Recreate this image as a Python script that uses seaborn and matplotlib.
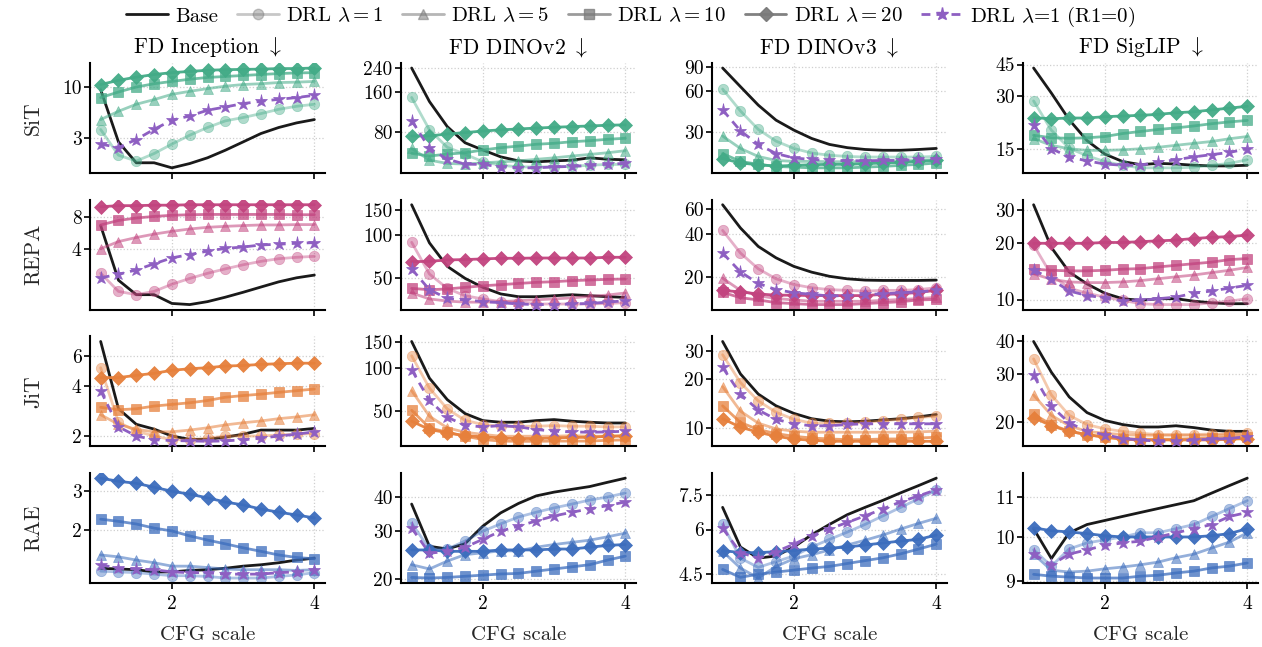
import numpy as np
import pandas as pd
import matplotlib
matplotlib.use("Agg")
import matplotlib.pyplot as plt
from matplotlib.lines import Line2D
from matplotlib.ticker import FixedLocator, FixedFormatter, NullLocator
import seaborn as sns

# ---------------------------------------------------------------- data
cfg = [1.0, 1.25, 1.5, 1.75, 2.0, 2.25, 2.5, 2.75, 3.0, 3.25, 3.5, 3.75, 4.0]

models = ["SiT", "REPA", "JiT", "RAE"]
metrics = ["FD Inception", "FD DINOv2", "FD DINOv3", "FD SigLIP"]
series = ["Base", "DRL $\\lambda=1$", "DRL $\\lambda=5$", "DRL $\\lambda=10$",
          "DRL $\\lambda=20$", "DRL $\\lambda$=1 (R1=0)"]

# each panel: base, lambda=1, lambda=5, lambda=10, lambda=20, lambda=1 (R1=0)
sit_inception = [
    [9.4, 2.77, 1.70, 1.70, 1.51, 1.67, 1.91, 2.28, 2.77, 3.37, 3.88, 4.32, 4.67],
    [3.70, 2.03, 1.77, 2.11, 2.63, 3.24, 3.88, 4.53, 4.90, 5.37, 5.94, 6.37, 6.68],
    [4.67, 5.67, 6.68, 7.45, 8.43, 9.04, 9.63, 10.2, 10.6, 10.8, 11.1, 11.2, 11.4],
    [7.81, 8.9, 10.0, 10.8, 11.4, 12.0, 12.5, 12.8, 13.1, 13.4, 13.7, 13.9, 14.0],
    [10.6, 11.7, 12.6, 13.4, 14.0, 14.4, 14.8, 15.0, 15.1, 15.2, 15.4, 15.4, 15.6],
    [2.63, 2.43, 2.93, 3.72, 4.60, 5.08, 5.81, 6.27, 6.79, 7.16, 7.5, 7.81, 8.24],
]
sit_dinov2 = [
    [242, 135, 87.3, 65.9, 58.1, 51.6, 48.1, 47.3, 48.1, 48.7, 50.7, 49.5, 49],
    [145, 82.5, 60.9, 54.1, 47.3, 44.6, 43.3, 43.3, 43.3, 43.7, 44.6, 45.2, 45.2],
    [59.8, 48.7, 46, 45.5, 46.5, 47.3, 48.1, 49.4, 50.7, 52.3, 53.8, 55.4, 57.4],
    [54.8, 52.3, 54.1, 55.4, 58.1, 60.5, 62.2, 64.2, 65.3, 67.1, 68.3, 70, 71.3],
    [74.2, 74.2, 76.8, 78.6, 80.9, 82.5, 83.8, 85.1, 86.3, 87.3, 88.3, 89.4, 90],
    [97, 59.8, 49.6, 45.4, 45.2, 43.3, 42.6, 42.6, 43.3, 43.7, 44.4, 45.4, 46],
]
sit_dinov3 = [
    [89, 65, 47.6, 36.9, 31.2, 27.1, 24.5, 23.2, 22.5, 22.2, 22.2, 22.5, 22.9],
    [62.4, 43.1, 31.6, 25.9, 22.9, 21.2, 20.4, 20.0, 19.8, 19.8, 19.8, 19.8, 20.0],
    [28.2, 22.9, 20.0, 18.7, 18.4, 18.4, 18.3, 18.3, 18.3, 18.4, 18.6, 18.7, 19.0],
    [21.0, 18.4, 17.5, 16.9, 16.7, 16.5, 16.5, 16.5, 16.7, 16.9, 17.2, 17.5, 17.9],
    [19.3, 17.9, 17.4, 17.0, 17.2, 17.4, 17.5, 17.5, 17.7, 17.9, 18.1, 18.4, 18.7],
    [43.9, 30.8, 24.5, 21.0, 19.5, 19.0, 18.7, 18.6, 18.6, 18.7, 18.7, 19.0, 19.3],
]
sit_siglip = [
    [43, 31, 21.9, 16.7, 14.0, 12.7, 12.2, 12.4, 12.3, 12.1, 12.0, 12.0, 12.1],
    [28, 19.1, 15.1, 13.7, 12.7, 12.1, 11.7, 11.7, 11.7, 11.8, 12.1, 12.4, 13.0],
    [17.1, 15.7, 15.0, 14.7, 14.7, 14.8, 15.0, 15.3, 15.7, 16.1, 16.5, 17.1, 17.6],
    [17.9, 17.3, 17.2, 17.3, 17.6, 18.3, 18.8, 19.3, 19.7, 20.2, 20.8, 21.3, 21.7],
    [22.5, 22.2, 22.4, 22.4, 22.8, 23.0, 23.2, 23.5, 24.0, 24.3, 24.9, 25.5, 26.1],
    [20.4, 15.0, 13.5, 12.8, 12.3, 12.1, 12.1, 12.6, 13.0, 13.5, 13.9, 14.3, 15.0],
]
repa_inception = [
    [6.66, 2.07, 1.52, 1.52, 1.26, 1.23, 1.31, 1.44, 1.6, 1.79, 2.0, 2.18, 2.31],
    [2.4, 1.63, 1.52, 1.63, 1.9, 2.15, 2.4, 2.64, 2.88, 3.1, 3.28, 3.38, 3.45],
    [4.06, 4.73, 5.16, 5.55, 5.89, 6.19, 6.42, 6.55, 6.66, 6.75, 6.75, 6.8, 6.8],
    [6.75, 7.43, 7.83, 8.1, 8.3, 8.4, 8.45, 8.45, 8.45, 8.45, 8.45, 8.4, 8.4],
    [9.96, 10.2, 10.2, 10.3, 10.3, 10.4, 10.4, 10.4, 10.4, 10.4, 10.4, 10.4, 10.4],
    [2.18, 2.35, 2.58, 2.94, 3.34, 3.58, 3.86, 4.09, 4.21, 4.4, 4.47, 4.56, 4.63],
]
repa_dinov2 = [
    [162, 88.1, 60.6, 50, 43.3, 39, 37.3, 37.3, 37.9, 38.5, 37.9, 37.3, 36.9],
    [88.9, 53.6, 42.6, 37.9, 36, 34.5, 33.9, 33.2, 33.2, 33.2, 33.2, 33.5, 33.9],
    [39.6, 36, 34.8, 34.2, 34.2, 34.5, 35, 35.5, 36, 36.6, 37.5, 38.3, 39.6],
    [42.6, 41.7, 42.2, 43.3, 44.4, 45.2, 46.1, 46.9, 47.4, 48.2, 48.7, 49.2, 49.5],
    [65.3, 65.6, 67.1, 67.5, 68.2, 68.9, 68.9, 69.2, 69.2, 69.2, 69.2, 70, 70],
    [58.1, 41.7, 36.3, 35.4, 34.5, 33.9, 33.2, 32.9, 32.9, 33.2, 33.5, 34.2, 35],
]
repa_dinov3 = [
    [64, 44.1, 32.8, 27.3, 23.8, 21.7, 20.3, 19.5, 19.1, 19, 19, 19, 19.1],
    [42.4, 29.5, 22.9, 19.5, 17.8, 16.9, 16.4, 16.2, 16, 16.2, 16.2, 16.4, 16.9],
    [19.7, 16.2, 14.9, 14.2, 13.9, 13.6, 13.6, 13.6, 13.6, 13.8, 14, 14.2, 14.5],
    [15.7, 14.4, 13.9, 13.3, 13.1, 12.9, 12.9, 12.9, 13.1, 13.3, 13.5, 13.9, 14],
    [16.2, 15.8, 15.3, 15, 15, 14.9, 14.9, 14.9, 14.9, 15.2, 15.3, 15.7, 16.2],
    [29.5, 21.8, 18.1, 16.4, 15.6, 15.2, 14.8, 14.9, 15.2, 15.3, 15.6, 15.8, 16.2],
]
repa_siglip = [
    [31.9, 18.9, 14, 12.1, 10.8, 10.1, 9.9, 10.1, 10.1, 9.8, 9.6, 9.5, 9.5],
    [19.5, 13.5, 11.5, 10.8, 10.3, 9.9, 9.5, 9.4, 9.4, 9.4, 9.6, 9.8, 10.1],
    [13.7, 12.8, 12.4, 12.3, 12.3, 12.4, 12.6, 12.9, 13.2, 13.5, 13.9, 14.3, 14.8],
    [14.5, 14.3, 14.2, 14.2, 14.3, 14.5, 14.6, 14.9, 15.2, 15.5, 15.8, 16.3, 16.5],
    [19.9, 19.9, 19.9, 19.9, 20.1, 20.1, 20.3, 20.5, 20.7, 21.1, 21.4, 21.6, 22],
    [14.4, 12.8, 11.1, 10.5, 10.2, 9.8, 9.9, 10.1, 10.3, 10.8, 11.1, 11.5, 11.9],
]
jit_inception = [
    [7.35, 2.91, 2.35, 2.2, 2.0, 1.91, 1.91, 1.97, 2.05, 2.17, 2.17, 2.17, 2.22],
    [5.12, 2.42, 2.14, 2.0, 1.9, 1.9, 1.94, 2.0, 2.0, 2.0, 2.03, 2.05, 2.07],
    [2.68, 2.35, 2.19, 2.12, 2.12, 2.17, 2.24, 2.33, 2.4, 2.46, 2.54, 2.6, 2.68],
    [2.97, 2.87, 2.91, 3.02, 3.09, 3.16, 3.26, 3.41, 3.49, 3.56, 3.65, 3.73, 3.82],
    [4.47, 4.47, 4.61, 4.74, 4.94, 5.05, 5.12, 5.24, 5.28, 5.36, 5.41, 5.45, 5.45],
    [3.73, 2.27, 2.0, 1.9, 1.88, 1.87, 1.86, 1.87, 1.9, 1.94, 2.0, 2.05, 2.12],
]
jit_dinov2 = [
    [152, 84.7, 60.2, 48.2, 43.1, 42, 42, 43.1, 43.8, 42.7, 42, 41.5, 41.5],
    [121, 72.3, 51.9, 43.3, 40.5, 39.4, 39.4, 39.4, 39.8, 39.4, 39.4, 39, 39],
    [69.4, 46.2, 38.4, 35.8, 34.6, 33.6, 33.6, 33.6, 33.6, 33.9, 33.6, 33.6, 33.6],
    [50.8, 38.4, 35.8, 33.6, 31.9, 31.1, 31, 31, 31.1, 31.1, 31.1, 31.5, 31.7],
    [42.7, 37.4, 35.5, 33.9, 33.3, 32.7, 32.4, 32.4, 32.7, 33, 33, 33.6, 33.9],
    [96.8, 59.5, 45.5, 40, 39, 39.8, 39, 37.4, 36.4, 36, 35.8, 36, 36.4],
]
jit_dinov3 = [
    [34.3, 21.6, 16.2, 13.7, 12.3, 11.4, 11, 10.9, 11, 11.2, 11.4, 11.7, 12.1],
    [28.4, 19.1, 14.7, 12.5, 11.3, 10.7, 10.7, 10.7, 10.8, 11.1, 11.3, 11.6, 11.8],
    [18, 12.7, 10.7, 9.86, 9.54, 9.4, 9.4, 9.4, 9.4, 9.4, 9.4, 9.44, 9.54],
    [13.7, 10.8, 9.77, 9.22, 8.87, 8.66, 8.54, 8.46, 8.46, 8.54, 8.54, 8.66, 8.75],
    [11.4, 10.1, 9.4, 8.87, 8.54, 8.38, 8.26, 8.26, 8.26, 8.26, 8.26, 8.26, 8.26],
    [23.7, 16.2, 12.9, 11.3, 10.6, 10.3, 10.3, 10.5, 10.6, 10.6, 10.6, 10.6, 10.6],
]
jit_siglip = [
    [39.7, 30.5, 24.7, 21.6, 20.2, 19.5, 19.1, 19.1, 19.3, 19.0, 18.6, 18.4, 18.4],
    [34.2, 25.1, 21.1, 19.5, 18.8, 18.4, 18.1, 17.9, 17.9, 17.9, 18.0, 18.0, 18.1],
    [25.1, 21.1, 19.3, 18.4, 18.1, 17.9, 17.8, 17.8, 17.8, 17.8, 17.8, 17.9, 17.9],
    [21.3, 19.5, 18.4, 17.9, 17.5, 17.3, 17.2, 17.2, 17.2, 17.3, 17.4, 17.5, 17.6],
    [20.7, 19.3, 18.4, 17.9, 17.5, 17.2, 17.1, 17.1, 17.1, 17.1, 17.1, 17.2, 17.3],
    [29.7, 22.8, 19.8, 18.4, 17.9, 17.3, 17.1, 16.9, 16.9, 17.1, 17.2, 17.3, 17.6],
]
rae_inception = [
    [1.34, 1.33, 1.32, 1.29, 1.29, 1.31, 1.32, 1.34, 1.37, 1.39, 1.42, 1.46, 1.49],
    [1.3, 1.29, 1.28, 1.26, 1.24, 1.24, 1.23, 1.21, 1.21, 1.21, 1.23, 1.25, 1.28],
    [1.54, 1.51, 1.46, 1.42, 1.37, 1.37, 1.35, 1.33, 1.32, 1.32, 1.32, 1.31, 1.32],
    [2.24, 2.19, 2.13, 2.04, 1.98, 1.88, 1.8, 1.73, 1.66, 1.6, 1.54, 1.5, 1.48],
    [3.44, 3.33, 3.26, 3.13, 3.0, 2.91, 2.8, 2.68, 2.6, 2.49, 2.41, 2.34, 2.27],
    [1.39, 1.34, 1.33, 1.32, 1.29, 1.28, 1.28, 1.26, 1.26, 1.26, 1.28, 1.29, 1.32],
]
rae_dinov2 = [
    [37.7, 26.4, 25.8, 27.0, 31.3, 35, 37.9, 40.4, 41.7, 42.7, 43.7, 45.3, 46.9],
    [32.1, 25.8, 25.8, 27.6, 30, 31.9, 33.8, 35.2, 36.5, 37.7, 39, 40, 41.4],
    [22.6, 21.8, 23.3, 24.6, 25, 25.4, 25.4, 26.2, 26.8, 27.3, 27.8, 28.6, 29.5],
    [20.3, 20.2, 20.3, 20.5, 20.7, 20.9, 21, 21.4, 21.8, 22.2, 22.6, 23.5, 24.3],
    [25.6, 25.6, 25.3, 25.3, 25.3, 25.6, 25.6, 25.6, 25.8, 25.8, 26.2, 26.6, 26.8],
    [30.8, 24.9, 25.3, 26.2, 28, 30, 31.3, 32.7, 34.1, 35.2, 36.2, 37.2, 38.4],
]
rae_dinov3 = [
    [6.92, 5.36, 4.99, 5.06, 5.36, 5.8, 6.2, 6.6, 6.92, 7.24, 7.6, 7.96, 8.35],
    [6.2, 4.99, 4.7, 4.88, 5.06, 5.36, 5.63, 5.9, 6.2, 6.55, 6.92, 7.31, 7.72],
    [5.21, 4.68, 4.39, 4.73, 4.97, 5.1, 5.26, 5.43, 5.6, 5.79, 6.02, 6.24, 6.45],
    [4.64, 4.41, 4.5, 4.56, 4.62, 4.68, 4.73, 4.82, 4.91, 5.0, 5.13, 5.29, 5.46],
    [5.24, 5.17, 5.17, 5.2, 5.24, 5.29, 5.32, 5.36, 5.43, 5.5, 5.57, 5.63, 5.79],
    [6.05, 5.17, 4.99, 5.2, 5.46, 5.76, 6.02, 6.28, 6.55, 6.85, 7.17, 7.45, 7.75],
]
rae_siglip = [
    [10.2, 9.5, 10.1, 10.3, 10.4, 10.5, 10.6, 10.7, 10.8, 10.9, 11.1, 11.3, 11.5],
    [9.7, 9.33, 9.72, 9.86, 9.93, 10.0, 10.1, 10.1, 10.2, 10.3, 10.5, 10.7, 10.9],
    [9.6, 9.24, 9.2, 9.22, 9.27, 9.31, 9.36, 9.42, 9.52, 9.6, 9.74, 9.88, 10.1],
    [9.15, 9.11, 9.09, 9.07, 9.07, 9.07, 9.11, 9.13, 9.18, 9.22, 9.29, 9.33, 9.4],
    [10.22, 10.15, 10.12, 10.08, 10.03, 10.0, 10.0, 10.0, 10.0, 10.0, 10.03, 10.08, 10.2],
    [9.6, 9.36, 9.6, 9.7, 9.8, 9.86, 9.9, 10.0, 10.1, 10.2, 10.3, 10.5, 10.6],
]

panels = {
    ("SiT", "FD Inception"): sit_inception, ("SiT", "FD DINOv2"): sit_dinov2,
    ("SiT", "FD DINOv3"): sit_dinov3, ("SiT", "FD SigLIP"): sit_siglip,
    ("REPA", "FD Inception"): repa_inception, ("REPA", "FD DINOv2"): repa_dinov2,
    ("REPA", "FD DINOv3"): repa_dinov3, ("REPA", "FD SigLIP"): repa_siglip,
    ("JiT", "FD Inception"): jit_inception, ("JiT", "FD DINOv2"): jit_dinov2,
    ("JiT", "FD DINOv3"): jit_dinov3, ("JiT", "FD SigLIP"): jit_siglip,
    ("RAE", "FD Inception"): rae_inception, ("RAE", "FD DINOv2"): rae_dinov2,
    ("RAE", "FD DINOv3"): rae_dinov3, ("RAE", "FD SigLIP"): rae_siglip,
}

# y tick labels per panel (row = model, column = metric)
yticks = {
    "SiT": [["3", "10"], ["80", "160", "240"], ["30", "60", "90"], ["15", "30", "45"]],
    "REPA": [["4", "8"], ["50", "100", "150"], ["20", "40", "60"], ["10", "20", "30"]],
    "JiT": [["2", "4", "6"], ["50", "100", "150"], ["10", "20", "30"], ["20", "30", "40"]],
    "RAE": [["2", "3"], ["20", "30", "40"], ["4.5", "6", "7.5"], ["9", "10", "11"]],
}

# ---------------------------------------------------------------- style
model_colors = {"SiT": "#43ab87", "REPA": "#c2447f", "JiT": "#e6803c", "RAE": "#3c6dbd"}
purple = "#8e5fc2"
markers = [None, "o", "^", "s", "D", "*"]
alphas = [1.0, 0.42, 0.55, 0.75, 0.95, 1.0]
msizes = [0, 7.5, 7.5, 7.0, 7.5, 9.5]
dash = (0, (3.2, 2.2))

rows = []
for (model, metric), vals in panels.items():
    for name, ys in zip(series, vals):
        for x, y in zip(cfg, ys):
            rows.append({"model": model, "metric": metric, "series": name,
                         "cfg": x, "fd": y})
df = pd.DataFrame(rows)

sns.set_theme(style="ticks")
plt.rcParams.update({
    "font.family": "serif",
    "font.serif": ["cmr10", "DejaVu Serif"],
    "mathtext.fontset": "cm",
    "axes.formatter.use_mathtext": True,
    "axes.edgecolor": "black",
    "axes.linewidth": 1.5,
    "xtick.major.width": 1.2,
    "ytick.major.width": 1.2,
    "xtick.major.size": 4,
    "ytick.major.size": 4,
    "xtick.color": "black",
    "ytick.color": "black",
    "text.color": "black",
})

fig, axes = plt.subplots(4, 4, figsize=(12.62, 6.47), dpi=100)
fig.subplots_adjust(left=0.0713, right=0.9968, top=0.9026, bottom=0.0989,
                    wspace=0.323, hspace=0.245)

for i, model in enumerate(models):
    base_col = model_colors[model]
    for j, metric in enumerate(metrics):
        ax = axes[i, j]
        ax.set_yscale("log")
        sub = df[(df.model == model) & (df.metric == metric)]
        for k, name in enumerate(series):
            d = sub[sub.series == name]
            if k == 0:
                sns.lineplot(data=d, x="cfg", y="fd", ax=ax, color="#1a1a1a",
                             linewidth=2.0, legend=False, zorder=2)
            elif k == 5:
                sns.lineplot(data=d, x="cfg", y="fd", ax=ax, color=purple,
                             linewidth=2.0, linestyle=dash,
                             marker="*", markersize=msizes[k], mec=purple,
                             mew=0.5, legend=False, zorder=3)
            else:
                sns.lineplot(data=d, x="cfg", y="fd", ax=ax, color=base_col,
                             alpha=alphas[k], linewidth=2.0, marker=markers[k],
                             markersize=msizes[k], mec=base_col, mew=0.5,
                             legend=False, zorder=2)
        labels = yticks[model][j]
        ax.yaxis.set_major_locator(FixedLocator([float(t) for t in labels]))
        ax.yaxis.set_major_formatter(FixedFormatter(labels))
        ax.yaxis.set_minor_locator(NullLocator())
        ax.set_xticks([2, 4])
        ax.set_xticklabels(["2", "4"] if i == 3 else [])
        ax.xaxis.set_minor_locator(NullLocator())
        ax.tick_params(axis="y", labelsize=14, pad=2)
        ax.tick_params(axis="x", labelsize=14, pad=5)
        ax.grid(True, which="major", linestyle=":", color="#cfcfcf", linewidth=0.9)
        ax.set_axisbelow(True)
        sns.despine(ax=ax)
        if i == 0:
            ax.set_title(metric + r" $\downarrow$", fontsize=15.5, pad=7)
        if i == 3:
            ax.set_xlabel("CFG scale", fontsize=15, labelpad=9)
        else:
            ax.set_xlabel("")
        if j == 0:
            ax.set_ylabel(model, fontsize=15.5)
            ax.yaxis.set_label_coords(-0.2, 0.5)
        else:
            ax.set_ylabel("")

# legend with neutral grey swatches for the DRL variants
handles = [Line2D([], [], color="#1a1a1a", linewidth=2.0)]
for k in range(1, 5):
    handles.append(Line2D([], [], color="#7a7a7a", alpha=alphas[k], linewidth=2.0,
                          marker=markers[k], markersize=msizes[k], mec="#7a7a7a"))
handles.append(Line2D([], [], color=purple, linewidth=2.0, linestyle=dash,
                      marker="*", markersize=msizes[5], mec=purple))
fig.legend(handles, series, loc="upper center", bbox_to_anchor=(0.5, 1.022),
           ncol=6, frameon=False, fontsize=15, handlelength=2.0,
           handletextpad=0.35, columnspacing=0.9)

fig.savefig("out.png", dpi=100)
